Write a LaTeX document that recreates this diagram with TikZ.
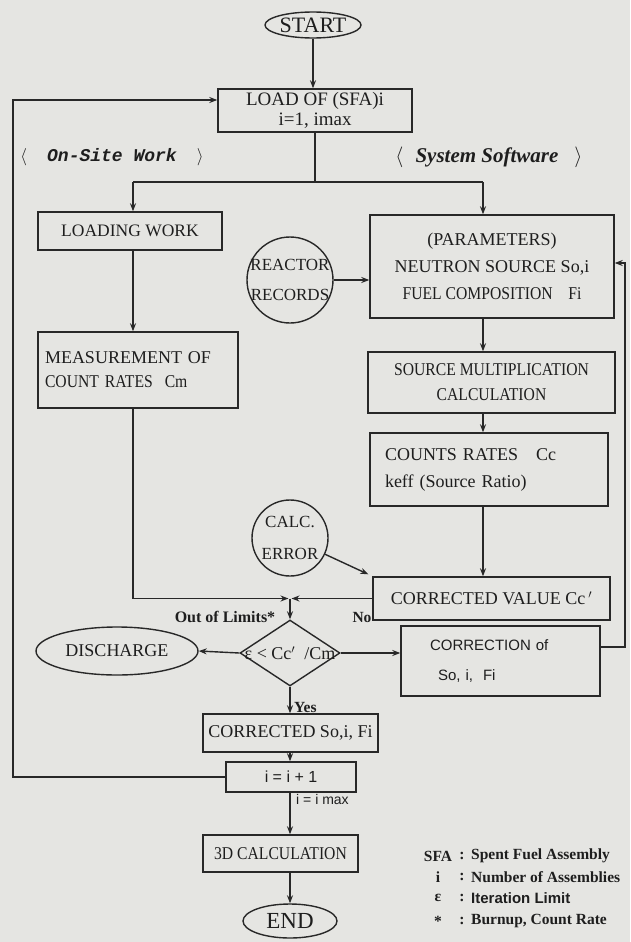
\documentclass[tikz,border=0pt]{standalone}
\usepackage{fontspec}
\setmainfont{Liberation Serif}
\newfontfamily\sansn{Liberation Sans}
\newfontfamily\monof{Liberation Mono}
\newfontfamily\narrow[FakeStretch=0.87]{Liberation Serif}
\usetikzlibrary{shapes.geometric,arrows.meta,calc}
\definecolor{paper}{RGB}{229,229,226}
\definecolor{ink}{RGB}{40,40,40}
\definecolor{textink}{RGB}{30,30,30}
\begin{document}
\begin{tikzpicture}[x=1pt,y=-1pt,
  every node/.style={text=textink},
  box/.style={draw=ink, line width=1.4pt, inner sep=0pt, align=center, font=\fontsize{18}{26}\selectfont},
  shp/.style={draw=ink, line width=1.4pt, inner sep=0pt},
  txt/.style={inner sep=0pt, align=center, font=\fontsize{18}{30}\selectfont},
  ln/.style={draw=ink, line width=1.4pt},
  arr/.style={ln, -{Stealth[length=8pt,width=6pt]}},
  lbl/.style={font=\fontsize{15.5}{18}\selectfont\bfseries, inner sep=0pt},
  leg/.style={font=\fontsize{15.5}{18}\selectfont\bfseries, inner sep=0pt},
]
\fill[paper] (0,0) rectangle (630,942);
\useasboundingbox (0,0) rectangle (630,942);

% terminals
\node[shp, ellipse, minimum width=96pt, minimum height=26pt] (start) at (313,25) {};
\node[txt, font=\fontsize{22}{24}\selectfont] (startT) at (start.center) {START};
\node[shp, ellipse, minimum width=94pt, minimum height=34pt] (end) at (290,921) {};
\node[txt, font=\fontsize{23}{25}\selectfont] (endT) at (end.center) {END};
\node[shp, ellipse, minimum width=162pt, minimum height=48pt] (dis) at (117,651) {};
\node[txt] (disT) at (dis.center) {DISCHARGE};

% top box
\node[box, minimum width=194pt, minimum height=43pt, font=\fontsize{19}{21}\selectfont] (load) at (315,110.5) {LOAD OF (SFA)i\\[-1pt]i=1, imax};

% section headings
\node[inner sep=0pt, font=\fontsize{18}{20}\selectfont] (onsite) at (112,157) {$\langle$\hspace{20pt}{\monof\bfseries\itshape On-Site Work}\hspace{20pt}$\rangle$};
\node[inner sep=0pt, font=\fontsize{21}{23}\selectfont] (syssw) at (489,157) {$\langle$\hspace{12pt}{\bfseries\itshape System Software}\hspace{16pt}$\rangle$};

% left column
\node[box, minimum width=184pt, minimum height=38pt, font=\fontsize{17.5}{20}\selectfont] (lw) at (130,231) {LOADING WORK};
\node[box, text width=186pt, inner xsep=7pt, minimum height=76pt, align=left, font=\fontsize{18}{24}\selectfont] (meas) at (138,370) {MEASUREMENT OF\\{\narrow COUNT RATES\ \ Cm}};

% right column
\node[box, minimum width=244pt, minimum height=103pt, font=\fontsize{18}{27}\selectfont] (par) at (492,266.5) {(PARAMETERS)\\NEUTRON SOURCE So,i\\{\narrow FUEL COMPOSITION\ \ \ \ Fi}};
\node[box, minimum width=247pt, minimum height=61pt, font=\fontsize{18}{25}\selectfont] (smc) at (491.5,382.5) {{\narrow SOURCE MULTIPLICATION}\\{\narrow CALCULATION}};
\node[box, text width=208pt, inner xsep=15pt, minimum height=73pt, align=left, font=\fontsize{18}{27}\selectfont] (cnt) at (489,469.5) {COUNTS RATES\ \ \ Cc\\keff (Source Ratio)};
\node[box, minimum width=237pt, minimum height=43pt, font=\fontsize{18}{20}\selectfont] (cv) at (491.5,598.5) {CORRECTED VALUE Cc\,$'$};

% circles
\node[shp, circle, minimum size=86pt] (rr) at (290,280) {};
\node[txt, font=\fontsize{17}{30}\selectfont] (rrT) at (rr.center) {REACTOR\\RECORDS};
\node[shp, circle, minimum size=76pt] (ce) at (290,538) {};
\node[txt, font=\fontsize{17}{32}\selectfont] (ceT) at (ce.center) {CALC.\\ERROR};

% decision
\node[shp, diamond, minimum width=100pt, minimum height=66pt] (dia) at (290,653) {};
\node[txt, font=\fontsize{18}{20}\selectfont] (diaT) at (dia.center) {ε\ <\ Cc$'$\ \ /Cm};
\node[lbl, font=\fontsize{16}{18}\selectfont\bfseries] (oolT) at (225,617) {Out of Limits*};
\node[lbl] (noT) at (362,617) {No};
\node[lbl, anchor=west] (yesT) at (294,707) {Yes};

\node[box, text width=141pt, inner xsep=29pt, minimum height=70pt, align=left, font=\sansn\fontsize{15}{30}\selectfont] (corr) at (500.5,661) {CORRECTION of\\\hspace{8pt}So, i,\ \ Fi};

% lower column
\node[box, minimum width=175pt, minimum height=38pt, font=\fontsize{18}{20}\selectfont] (csf) at (290.5,733) {CORRECTED So,i, Fi};
\node[box, minimum width=130pt, minimum height=30pt, font=\sansn\fontsize{16}{18}\selectfont] (inc) at (291,777) {i = i + 1};
\node[inner sep=0pt, anchor=west, font=\sansn\fontsize{14}{16}\selectfont] (imaxT) at (296,799) {i = i max};
\node[box, minimum width=155pt, minimum height=37pt, font=\fontsize{18}{20}\selectfont] (c3d) at (280.5,853.5) {{\narrow 3D CALCULATION}};

% legend
\node[leg] (k1) at (438,856) {SFA};
\node[leg] (c1) at (462,856) {:};
\node[leg, anchor=west] (d1) at (471,856) {Spent Fuel Assembly};
\node[leg] (k2) at (438,877) {i};
\node[leg] (c2) at (462,877) {:};
\node[leg, anchor=west] (d2) at (471,877) {Number of Assemblies};
\node[leg] (k3) at (438,898) {ε};
\node[leg] (c3) at (462,898) {:};
\node[leg, anchor=west, font=\sansn\fontsize{15}{18}\selectfont\bfseries] (d3) at (471,898) {Iteration Limit};
\node[leg] (k4) at (438,921) {*};
\node[leg] (c4) at (462,921) {:};
\node[leg, anchor=west] (d4) at (471,921) {Burnup, Count Rate};

% connectors
\coordinate (bL) at (133,182);
\coordinate (bR) at (483,182);
\coordinate (jn) at (290,598.5);
\coordinate (fbR) at (625,647);
\coordinate (fbT) at (625,263);
\coordinate (lpB) at (13,777);
\coordinate (lpT) at (13,100);

\draw[arr] (start) -- (start |- load.north);
\draw[ln] (load.south) -- (load.south |- bL);
\draw[ln] (bL) -- (bR);
\draw[arr] (bL) -- (bL |- lw.north);
\draw[arr] (bR) -- (bR |- par.north);
\draw[arr] (lw.south -| bL) -- (meas.north -| bL);
\draw[arr] (rr.east) -- (rr.east -| par.west);
\draw[arr] (par.south -| bR) -- (smc.north -| bR);
\draw[arr] (smc.south -| bR) -- (cnt.north -| bR);
\draw[arr] (cnt.south -| bR) -- (cv.north -| bR);
\draw[arr] (ce) -- ($(cv.north west)+(-4,-2)$);
\draw[arr, shorten >=1.5pt] (meas.south -| bL) |- (jn);
\draw[arr, shorten >=1.5pt] (cv.west) -- (jn);
\draw[arr] (jn) -- (dia.north);
\draw[arr] (dia.west) -- (dis.east);
\draw[arr] (dia.east) -- (corr.west |- dia.east);
\draw[arr] (corr.east |- fbR) -- (fbR) -- (fbT) -- (par.east |- fbT);
\draw[arr] (dia.south) -- (dia.south |- csf.north);
\draw[arr] (csf.south -| dia.south) -- (inc.north -| dia.south);
\draw[arr] (inc.west) -- (lpB) -- (lpT) -- (load.west |- lpT);
\draw[arr] (inc.south -| dia.south) -- (c3d.north -| dia.south);
\draw[arr] (c3d.south -| dia.south) -- (end.north);
\end{tikzpicture}
\end{document}
